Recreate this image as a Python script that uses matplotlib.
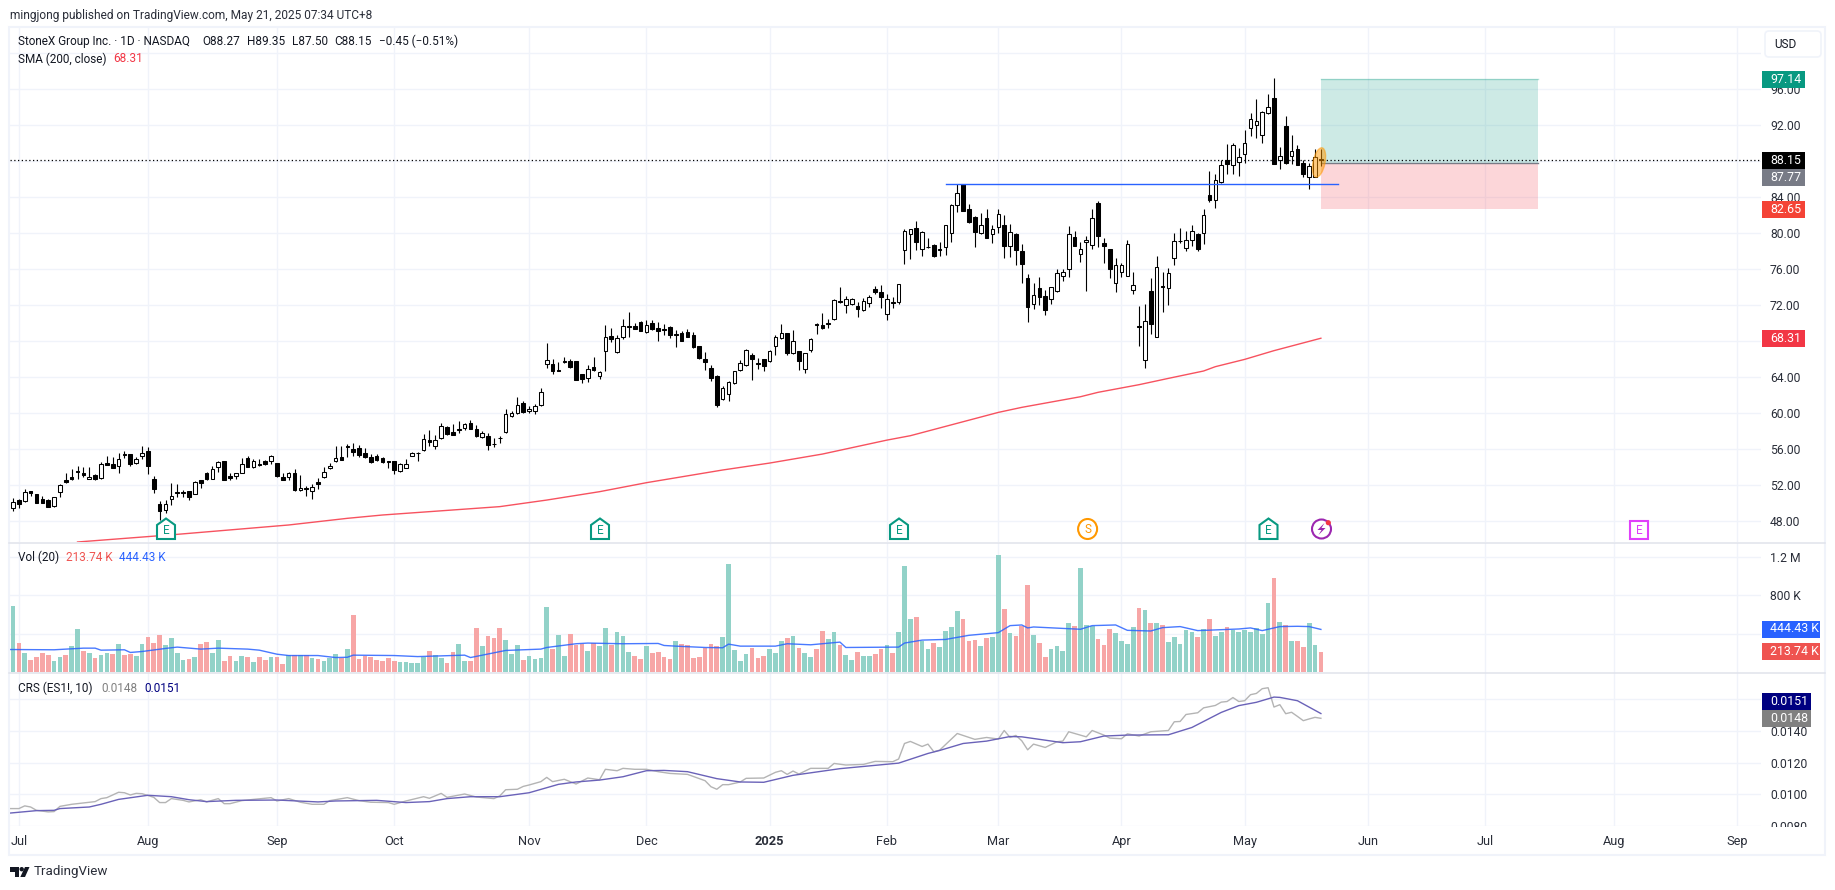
import numpy as np
import matplotlib
matplotlib.use('Agg')
import matplotlib.pyplot as plt
from matplotlib.patches import Rectangle, Polygon, Ellipse, Circle, FancyBboxPatch

plt.rcParams['font.family'] = ['Roboto', 'DejaVu Sans']

W, H = 1835, 890

opens = [49.41,50.33,50.19,51.30,50.96,50.48,50.37,49.70,51.26,52.52,
52.85,53.52,53.30,52.70,53.15,52.81,54.41,54.30,54.15,55.41,
55.41,54.41,55.19,55.74,52.63,49.85,49.19,50.48,51.22,51.22,
51.30,51.04,52.52,53.33,52.70,53.96,54.63,53.00,52.96,53.37,
54.96,53.96,54.33,54.70,54.63,54.41,52.85,52.93,53.30,51.41,
51.67,51.30,52.33,52.85,53.85,54.63,55.07,56.33,56.00,56.07,
55.52,55.11,55.19,54.96,54.67,54.63,53.52,53.93,55.26,55.59,
55.85,56.96,56.30,57.19,58.48,57.85,58.19,58.37,58.85,58.19,
57.30,57.41,56.59,57.26,57.85,59.63,59.96,61.07,60.19,60.19,
60.85,65.41,65.41,64.81,65.63,65.81,65.74,64.30,63.93,65.15,
64.15,66.85,68.55,66.74,68.41,69.63,69.63,70.11,69.04,69.96,
69.44,69.30,69.52,68.78,68.85,69.00,68.63,67.41,66.00,64.96,
64.11,61.52,62.07,63.30,64.81,65.30,66.44,65.52,65.96,65.74,
67.41,68.30,68.85,66.63,66.85,64.85,67.04,69.89,69.74,70.00,
70.41,72.48,71.96,72.07,71.89,71.41,72.19,73.74,73.44,70.96,
72.30,72.33,78.07,79.85,80.52,78.19,78.48,78.63,78.19,78.41,
79.96,83.07,85.41,82.63,81.74,79.96,81.63,79.85,80.63,80.85,
78.59,79.85,77.96,74.96,72.15,73.85,72.96,72.70,73.52,75.19,
75.96,79.52,77.63,78.96,78.63,83.33,78.89,78.19,74.48,75.63,
75.19,73.63,69.63,65.85,73.52,68.41,74.07,73.85,77.19,79.15,
78.30,79.19,79.85,79.96,84.19,83.63,85.67,88.07,87.52,87.85,
88.74,91.63,91.96,90.85,93.30,94.96,88.15,91.85,88.52,89.30,
87.74,86.19,86.26,88.27]

highs = [50.56,50.48,51.52,51.30,50.96,50.81,50.44,50.70,52.07,53.33,
53.74,54.11,54.04,53.96,53.22,54.52,55.22,55.07,55.52,55.74,
55.48,55.07,56.33,56.22,52.96,50.19,50.33,52.19,52.11,51.44,
51.37,52.48,52.56,53.44,54.11,54.67,54.63,53.30,53.37,54.96,
55.22,54.85,54.89,54.78,55.33,54.48,53.37,53.44,53.74,53.11,
51.89,52.11,52.78,54.04,54.41,56.33,56.33,56.56,56.63,56.41,
56.07,55.44,55.41,55.15,54.67,54.63,54.41,54.85,55.63,55.67,
57.63,58.11,57.59,58.85,58.56,58.78,59.07,58.93,59.22,58.70,
58.04,57.74,57.19,57.44,60.41,60.19,61.74,61.30,60.78,61.00,
62.74,67.78,65.96,65.63,66.19,65.96,65.78,64.37,65.37,66.19,
64.67,69.78,69.41,68.67,70.41,71.22,69.96,70.22,70.33,70.30,
70.15,69.89,69.67,69.22,69.11,69.30,68.96,67.44,66.78,65.30,
64.26,63.04,63.52,64.70,65.89,67.11,66.67,66.07,66.04,67.00,
68.67,69.85,68.89,69.22,66.89,66.70,68.30,70.04,71.07,70.41,
72.70,73.96,72.96,72.78,72.37,72.78,73.11,74.11,74.22,73.22,
72.93,74.33,80.41,80.41,81.33,80.22,79.41,78.74,79.00,80.85,
83.26,85.41,85.41,83.19,81.89,82.19,82.63,80.85,82.63,82.00,
80.96,79.96,78.78,75.41,74.41,75.07,73.67,74.04,76.00,75.96,
80.78,80.22,79.00,79.67,82.63,83.56,79.41,78.22,77.19,76.63,
79.22,75.63,71.85,72.07,74.96,77.44,75.63,76.07,80.00,80.56,
80.19,80.89,79.96,82.67,86.89,86.56,88.07,89.89,89.96,89.48,
91.44,93.30,94.85,93.52,95.44,97.22,89.59,93.00,90.85,89.74,
88.11,87.74,89.37,89.35]

lows = [49.15,49.45,50.11,50.78,50.04,49.96,49.59,49.59,50.70,52.26,
52.52,52.70,52.93,52.67,52.56,52.70,54.22,53.89,53.37,55.04,
54.15,54.33,54.93,53.26,51.15,48.11,48.93,49.81,50.70,50.63,
50.33,51.00,51.70,52.59,52.67,53.41,52.56,52.56,52.67,53.30,
53.96,53.89,54.15,54.22,54.37,52.93,52.56,52.56,51.37,51.37,
50.78,50.41,51.59,52.81,53.81,54.59,54.74,55.07,55.22,55.15,
55.00,54.48,54.67,54.41,53.85,53.22,53.48,53.85,55.22,54.70,
55.81,56.37,56.04,57.15,57.59,57.59,57.74,58.11,58.26,57.37,
57.26,55.93,56.26,56.70,57.81,59.59,59.85,60.00,59.96,59.93,
60.78,65.04,64.37,64.63,65.52,65.00,63.70,63.37,63.44,64.63,
63.74,64.70,67.93,66.70,68.26,68.48,69.33,69.11,68.93,69.22,
68.04,68.70,68.33,67.37,68.00,68.41,67.19,66.04,64.78,63.59,
60.70,61.48,61.37,63.22,64.70,65.26,63.67,64.89,64.70,65.67,
66.48,68.26,66.48,66.59,64.78,64.44,66.81,68.81,69.37,69.44,
70.37,72.19,71.11,72.04,70.70,71.37,71.81,73.22,71.70,70.37,
71.67,72.11,76.59,77.11,78.07,77.48,78.37,77.37,77.44,77.59,
79.04,82.37,82.41,81.07,78.48,79.89,79.41,78.93,79.96,77.26,
77.37,76.48,74.48,70.15,71.59,72.00,70.93,72.15,73.48,74.67,
75.11,78.56,76.78,73.59,78.26,78.44,76.70,75.00,73.44,75.07,
75.19,73.26,67.48,65.04,68.78,68.41,71.26,72.00,76.48,78.93,
78.04,78.59,78.04,78.82,83.44,82.81,85.56,86.59,86.52,86.37,
87.74,90.78,90.56,90.04,93.22,87.70,87.15,87.70,87.67,87.56,
86.19,84.93,86.19,87.50]

closes = [50.15,49.93,51.26,51.11,50.04,50.04,49.59,50.63,51.96,52.33,
52.67,53.44,53.15,52.93,52.67,54.30,54.26,53.93,54.85,55.33,
54.37,54.85,55.52,54.07,51.59,49.15,49.85,50.74,51.15,51.15,
50.70,52.30,52.26,52.67,53.74,54.59,52.59,52.81,53.30,54.30,
54.04,54.63,54.19,54.37,55.26,53.04,52.59,53.37,51.45,51.70,
51.59,51.81,52.15,53.48,54.11,55.04,54.81,56.19,55.70,55.33,
55.07,54.52,54.74,54.59,54.59,53.70,54.33,54.30,55.52,55.52,
57.07,56.81,57.04,58.59,57.67,57.59,58.11,58.74,58.26,57.48,
57.81,56.48,56.52,57.19,59.93,59.96,60.93,60.07,60.48,60.81,
62.37,65.85,64.70,64.67,65.81,65.15,63.70,63.81,64.85,64.81,
64.52,68.48,68.26,68.30,69.70,69.56,69.37,69.15,69.81,69.30,
69.15,69.22,68.70,68.70,68.04,68.48,67.30,66.15,65.70,63.93,
60.93,62.78,63.41,64.63,65.59,67.00,66.04,65.41,65.26,66.85,
68.48,68.85,66.70,68.04,65.74,66.63,68.19,69.81,69.48,69.93,
72.52,72.33,72.63,72.70,71.52,72.48,72.85,73.48,72.93,72.63,
72.27,74.30,80.19,80.41,79.04,80.07,78.45,77.48,78.16,80.85,
83.07,84.48,82.48,81.26,80.15,80.85,79.48,80.41,82.07,78.59,
80.07,78.15,76.59,71.81,73.07,72.93,71.48,73.96,75.52,75.63,
79.85,78.59,78.19,79.19,81.63,79.70,78.59,76.04,76.41,76.41,
78.74,74.19,69.56,70.19,69.85,76.19,73.96,75.52,79.07,79.10,
79.19,80.26,78.26,81.96,83.67,85.93,87.59,87.67,89.74,88.48,
89.96,92.70,92.40,93.40,94.04,87.70,88.59,87.78,89.07,87.59,
86.52,87.48,88.48,88.15]

# volume in thousands
volumes = [684,305,200,126,158,200,179,116,158,179,
274,453,221,200,147,179,200,190,295,179,
190,168,295,369,305,390,284,358,200,126,
137,158,295,316,200,337,116,168,116,168,
158,105,158,126,158,158,84,179,179,179,
179,147,137,116,147,190,147,242,590,137,
168,158,126,116,147,116,105,105,95,95,
158,221,179,147,95,211,295,116,116,463,
274,379,358,463,337,190,284,126,168,137,
147,674,242,390,168,400,284,295,221,305,
274,463,284,421,379,211,168,137,274,200,
211,158,137,326,295,284,147,158,253,295,
274,369,1127,232,116,190,253,147,168,242,
200,326,358,379,253,200,158,242,432,347,
421,284,179,126,211,168,168,190,242,284,
200,421,1106,548,569,326,242,305,263,432,
474,632,548,326,337,274,358,369,1221,653,
411,379,484,906,390,305,158,242,274,221,
516,484,1085,495,484,347,284,453,411,326,
295,474,663,642,516,516,495,316,369,295,
442,421,369,453,558,379,421,474,442,421,
442,421,463,400,716,979,526,495,326,326,
263,516,284,213.74]

vol_dirs = ("grgrrrrggr" "ggrgrggrgr" "rggrrrgggg" "rgrrggrrgg" "rgrrgrrgrg"
            "rgrgggrgrr" "rrrrrrgggg" "grggrrggrr" "grrrgggrgg" "ggrggrrrgr"
            "ggrgggrrgr" "rrrgrrrrrr" "rgggggrrrg" "ggrgrggrrg" "grggrggrrg"
            "rgggrggrgg" "ggrrrgrggr" "grrrgrrggg" "grgggrrrgg" "ggrgrgrggg"
            "ggrgrggrgg" "gggggrgrgr" "rggr")

vol_ma_idx = [-1,7,12,14,15,19,20,22,26,28,32,35,40,42,45,47,52,55,57,58,65,69,77,78,84,90,91,96,98,
              104,110,111,113,118,121,122,124,130,132,136,141,142,151,152,155,159,163,168,170,172,173,174,
              182,184,188,190,194,196,199,202,209,211,213,216,219,221,223]
vol_ma_vals = [235,232,249,249,228,232,204,214,246,260,239,249,239,228,186,172,172,151,154,176,172,161,176,151,225,239,256,295,302,
               295,298,277,270,256,253,291,270,270,295,284,312,256,260,302,333,340,383,411,484,491,460,470,
               446,484,491,435,428,463,474,432,449,460,432,474,477,474,444.43]

sma_idx = [11,25,28,47,57,63,83,91,100,108,121,129,138,149,153,168,172,182,185,192,197,203,205,210,215,223]
sma_vals = [45.67,46.37,46.52,47.56,48.30,48.67,49.60,50.33,51.26,52.26,53.67,54.44,55.44,56.99,57.48,60.07,60.63,61.81,62.30,63.15,63.85,64.67,65.15,65.96,66.93,68.31]

crs_idx = [-1,1,2,3,4,6,7,8,10,14,15,16,18,19,20,21,22,24,25,26,27,29,30,32,33,35,36,37,39,41,44,45,47,49,51,53,54,57,59,61,64,65,
           67,70,71,73,74,77,79,82,83,84,86,87,88,90,91,92,94,96,98,100,101,103,
           104,106,108,110,112,115,118,119,120,121,122,124,125,128,130,131,132,133,134,136,139,140,142,145,147,150,151,152,153,155,156,157,158,
           161,164,166,168,169,170,171,172,173,174,176,178,179,180,182,183,184,186,187,189,190,192,194,197,198,199,200,202,203,205,206,207,208,209,
           210,211,212,213,214,215,216,217,218,219,220,221,222,223]
crs_vals = [.00910,.00910,.00927,.00920,.00899,.00889,.00891,.00924,.00937,.00954,.00973,.00979,.01013,.01010,.00996,.01006,.01004,.00981,.00948,.00948,.00973,.00962,.00952,.00966,.00952,.00973,.00941,.00941,.00960,.00968,.00979,.00958,.00973,.00950,.00937,.00937,.00960,.00979,.00960,.00950,.00948,.00937,
            .00958,.00985,.00975,.01006,.00981,.01002,.00983,.00973,.00990,.01029,.01032,.01050,.01059,.01080,.01107,.01080,.01095,.01065,.01103,.01092,.01158,.01149,
            .01164,.01158,.01158,.01143,.01132,.01126,.01086,.01048,.01032,.01061,.01061,.01078,.01101,.01103,.01139,.01149,.01126,.01147,.01128,.01164,.01164,.01195,.01185,.01189,.01208,.01206,.01223,.01321,.01334,.01302,.01317,.01269,.01279,
            .01384,.01347,.01359,.01349,.01403,.01359,.01372,.01338,.01281,.01317,.01296,.01332,.01336,.01395,.01374,.01363,.01403,.01374,.01355,.01351,.01382,.01368,.01395,.01403,.01458,.01460,.01504,.01515,.01546,.01561,.01582,.01586,.01611,.01586,
            .01591,.01629,.01637,.01667,.01673,.01551,.01566,.01509,.01518,.01492,.01465,.01476,.01486,.01480]

crs_ma_idx = [-1,4,7,8,13,15,18,23,27,30,33,38,45,52,55,62,67,71,74,78,83,88,93,96,100,104,108,111,115,120,124,128,133,141,151,156,158,162,166,170,172,179,182,186,190,197,201,206,209,212,215,216,219,223]
crs_ma_vals = [.00880,.00897,.00899,.00910,.00920,.00937,.00968,.00994,.00985,.00966,.00954,.00962,.00964,.00952,.00958,.00962,.00948,.00954,.00973,.00985,.00985,.01010,.01063,.01078,.01090,.01111,.01149,.01151,.01143,.01099,.01078,.01076,.01120,.01162,.01197,.01258,.01277,.01321,.01336,.01365,.01363,.01326,.01332,.01368,.01374,.01376,.01422,.01517,.01560,.01581,.01614,.01612,.01591,.01510]

month_idx = [1,23,45,65,88,108,129,149,168,189,210,231,251,273,294]
month_labels = ['Jul','Aug','Sep','Oct','Nov','Dec','2025','Feb','Mar','Apr','May','Jun','Jul','Aug','Sep']

# levels hidden behind a value tag in the reference have an empty label
price_ticks = [48,52,56,60,64,68,72,76,80,84,88,92,96,100]
price_tick_labels = ['48.00','52.00','56.00','60.00','64.00','','72.00','76.00','80.00','84.00','','92.00','96.00','']
vol_ticks = [400,800,1200]
vol_tick_labels = ['','800 K','1.2 M']
crs_ticks = [.008,.010,.012,.014,.016]
crs_tick_labels = ['0.0080','0.0100','0.0120','0.0140','']

last_close = 88.15
target_price = 97.14
entry_price = 87.77
stop_price = 82.65
support_price = 85.41
support_start = 159
support_end = 226
trade_end = 260

GRID = '#f0f3fa'
TEXT = '#131722'
AXTEXT = '#2a2e39'

fig = plt.figure(figsize=(W / 100, H / 100), dpi=100)
XL = (-0.6, 298.04)

def pane(top, bottom):
    ax = fig.add_axes([9.5 / W, 1 - bottom / H, (1761 - 9.5) / W, (bottom - top) / H])
    ax.set_xlim(*XL)
    for s in ax.spines.values():
        s.set_visible(False)
    ax.yaxis.tick_right()
    ax.set_xticks(month_idx)
    ax.grid(True, color=GRID, lw=1.0)
    ax.set_axisbelow(True)
    ax.tick_params(axis='both', length=0, labelsize=8.7, labelcolor=AXTEXT, pad=6.5)
    return ax

# price pane
ax1 = pane(28, 542)
ax1.set_ylim(45.67, 102.78)
ax1.set_yticks(price_ticks, price_tick_labels)
ax1.tick_params(axis='x', labelbottom=False)

idx = np.arange(len(closes))
o = np.array(opens)
c = np.array(closes)
up = c >= o
ax1.add_patch(Rectangle((idx[-1], entry_price), trade_end - idx[-1], target_price - entry_price,
                        fc='#089981', alpha=0.2, lw=0, zorder=1.5))
ax1.add_patch(Rectangle((idx[-1], stop_price), trade_end - idx[-1], entry_price - stop_price,
                        fc='#f23645', alpha=0.2, lw=0, zorder=1.5))
ax1.plot([idx[-1], trade_end], [target_price, target_price], color='#089981', alpha=0.3, lw=1, zorder=1.6)
ax1.plot([idx[-1], trade_end], [entry_price, entry_price], color='#787b86', lw=1, zorder=1.6)
ax1.plot(sma_idx, sma_vals, color='#f7525f', lw=1.0, zorder=2)
ax1.axhline(last_close, color='black', lw=0.9, ls=(0, (1, 2)), zorder=2)
ax1.vlines(idx, lows, highs, color='black', lw=0.8, zorder=3)
ax1.bar(idx, np.maximum(np.abs(c - o), 0.05), bottom=np.minimum(c, o), width=0.62,
        color=['white' if u else 'black' for u in up], edgecolor='black', linewidth=0.75, zorder=4)
ax1.plot([support_start, support_end], [support_price, support_price], color='#2962ff', lw=1, zorder=5)

# volume pane
ax2 = pane(543, 672.5)
ax2.set_ylim(-5, 1346)
ax2.set_yticks(vol_ticks, vol_tick_labels)
ax2.tick_params(axis='x', labelbottom=False)
ax2.bar(idx, volumes, width=0.8, color=['#92d2c8' if d == 'g' else '#f7a6a6' for d in vol_dirs], zorder=2)
ax2.plot(vol_ma_idx, vol_ma_vals, color='#2962ff', lw=1.0, alpha=0.85, zorder=3)

# relative strength pane
ax3 = pane(673, 826)
ax3.set_ylim(.008, .01766)
ax3.set_yticks(crs_ticks, crs_tick_labels)
ax3.set_xticks(month_idx, month_labels)
ax3.tick_params(axis='x', pad=6.5, labelsize=9.2)
ax3.get_xticklabels()[6].set_fontweight('bold')
ax3.plot(crs_idx, crs_vals, color='#b4b4b4', lw=1.0, zorder=2)
ax3.plot(crs_ma_idx, crs_ma_vals, color='#6a62b8', lw=1.0, zorder=3)

# everything around the panes is placed in pixels on a transparent top layer
ov = fig.add_axes([0, 0, 1, 1])
ov.set_xlim(0, W)
ov.set_ylim(H, 0)
ov.axis('off')
ov.patch.set_alpha(0)

ov.add_patch(Rectangle((1762, 827), 60, 27, fc='white', lw=0, zorder=1))
ov.add_patch(Rectangle((9, 26.5), 1816, 828.5, fc='none', ec=GRID, lw=1.5, zorder=2))
ov.plot([9, 1825], [542.5, 542.5], color='#e0e3eb', lw=1.1, zorder=2)
ov.plot([9, 1825], [672.5, 672.5], color='#e0e3eb', lw=1.1, zorder=2)

def txt(x, y, s, color=TEXT, size=8.5, **kw):
    ov.text(x, y, s, color=color, fontsize=size, va='center', zorder=6, **kw)

txt(10, 15, 'mingjong published on TradingView.com, May 21, 2025 07:34 UTC+8', color='#2a2e39', size=8.55)
txt(18, 41.7, 'StoneX Group Inc. · 1D · NASDAQ')
for x, s in [(202, 'O88.27'), (247, 'H89.35'), (291.6, 'L87.50'), (334.5, 'C88.15'), (378.5, '−0.45 (−0.51%)')]:
    txt(x, 41.7, s)
txt(18, 59, 'SMA (200, close)')
txt(113, 59, '68.31', color='#f23645')
txt(18, 557.7, 'Vol (20)')
txt(66, 557.7, '213.74 K', color='#ef5350')
txt(118.6, 557.7, '444.43 K', color='#2962ff')
txt(18, 688, 'CRS (ES1!, 10)')
txt(101, 688, '0.0148', color='#808080')
txt(144, 688, '0.0151', color='#000080')

# USD button
ov.add_patch(FancyBboxPatch((1767, 33), 52, 22, boxstyle='round,pad=2,rounding_size=4',
                            fc='white', ec=GRID, lw=1.2, zorder=5))
txt(1774, 45, 'USD')

# axis value tags
for y, x1, s, col in [(79.5, 1805, '97.14', '#089981'),
                      (160.5, 1805, '88.15', '#000000'),
                      (177.5, 1805, '87.77', '#787b86'),
                      (209.5, 1805, '82.65', '#f44336'),
                      (338, 1805, '68.31', '#f23645'),
                      (629, 1820, '444.43 K', '#2962ff'),
                      (651.7, 1820, '213.74 K', '#ef5350'),
                      (701.7, 1811, '0.0151', '#000080'),
                      (718.7, 1811, '0.0148', '#808080')]:
    ov.add_patch(Rectangle((1762, y - 8.5), x1 - 1762, 17, fc=col, lw=0, zorder=5))
    txt(1770, y, s, color='white', size=8.9)

# earnings, split and news markers
def house(cx, col='#089981'):
    ov.add_patch(Polygon([(cx, 518.5), (cx + 9, 525), (cx + 9, 539), (cx - 9, 539), (cx - 9, 525)],
                         closed=True, fc='white', ec=col, lw=1.5, zorder=5))
    txt(cx, 530, 'E', color=col, size=8.5, ha='center')

for cx in [166, 600, 899, 1268.5]:
    house(cx)
ov.add_patch(Ellipse((1087.6, 529), 19, 20, fc='white', ec='#ff9800', lw=1.5, zorder=5))
txt(1087.6, 529.5, 'S', color='#ff9800', size=8.5, ha='center')
ov.add_patch(Circle((1321.5, 529), 9.5, fc='white', ec='#9c27b0', lw=1.5, zorder=5))
ov.add_patch(Polygon([(1324.5, 523), (1317.5, 530), (1321.5, 530), (1318.5, 535), (1325.5, 528), (1321.5, 528)],
                     closed=True, fc='#9c27b0', lw=0, zorder=6))
ov.add_patch(Circle((1328.3, 522.7), 2.6, fc='#f23645', lw=0, zorder=7))
ov.add_patch(Rectangle((1630, 520.5), 18, 18, fc='white', ec='#e040fb', lw=1.5, zorder=5))
txt(1639, 530, 'E', color='#e040fb', size=8.5, ha='center')

# highlight on the last candles
ov.add_patch(Ellipse((1319, 162.5), 12, 30, angle=12, fc='#ff9800', ec='#ff9800', alpha=0.5, lw=1, zorder=4))

# TradingView logo
ov.add_patch(Polygon([(10, 867), (19, 867), (19, 877), (15, 877), (15, 871.5), (10, 871.5)], fc='#131722', lw=0))
ov.add_patch(Circle((21.7, 869.2), 2.2, fc='#131722', lw=0))
ov.add_patch(Polygon([(25, 867), (29.5, 867), (25, 877), (20.3, 877)], fc='#131722', lw=0))
txt(33.5, 872, 'TradingView', size=9.6, color='#2a2e39')

fig.savefig('out.png', dpi=100, facecolor='white')
